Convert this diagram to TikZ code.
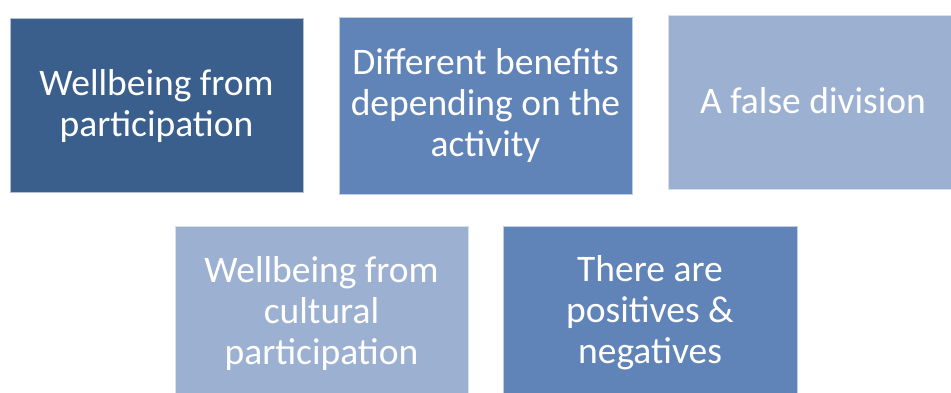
\documentclass[tikz,border=0pt]{standalone}
\usepackage{fontspec}
\setmainfont{Carlito}
\definecolor{cdark}{HTML}{3B5F8C}
\definecolor{cmid}{HTML}{6084B8}
\definecolor{clight}{HTML}{9CB0D1}
\begin{document}
\begin{tikzpicture}[x=1pt,y=-1pt,
  card/.style={draw=white!60!#1,line width=0.6pt,fill=#1},
  label/.style={text=white,align=center,inner sep=0pt,font=\fontsize{37.5}{41}\selectfont},
]
\useasboundingbox (0,0) rectangle (951,392);
\fill[white] (0,0) rectangle (951,392);
\path[card=cdark] (10,18) rectangle (303,192);
\node[label] (a) at (156.5,106) {Wellbeing from\\participation};
\path[card=cmid] (339,17) rectangle (632,194);
\node[label] (b) at (485.5,105) {Different benefits\\depending on the\\activity};
\path[card=clight] (668,15) rectangle (952,189);
\node[label] (c) at (813,101) {A false division};
\path[card=clight] (175,226) rectangle (468,393);
\node[label] (d) at (321.5,313) {Wellbeing from\\cultural\\participation};
\path[card=cmid] (503,226) rectangle (797,393);
\node[label] (e) at (650,313) {There are\\positives \&\\negatives};
\end{tikzpicture}
\end{document}
